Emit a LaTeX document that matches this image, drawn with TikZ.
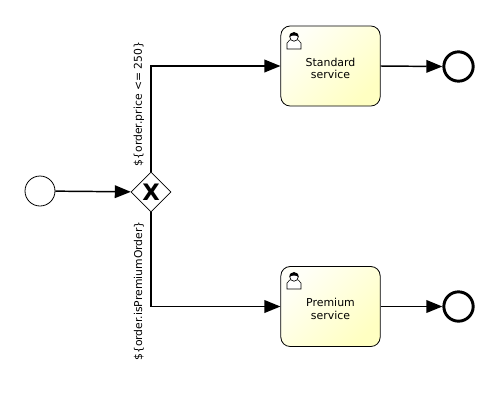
\documentclass[tikz,border=0pt]{standalone}
\usepackage{fontspec}
\setmainfont{DejaVu Sans}
\usetikzlibrary{arrows.meta,shapes.geometric}
\newcommand{\tasktop}{\rule{0pt}{10pt}}

\begin{document}
\begin{tikzpicture}[x=0.75pt, y=-0.75pt, font=\fontsize{8.2}{9.6}\selectfont,
  task/.style={draw, line width=0.6pt, rounded corners=7pt, align=center, minimum width=74.5pt, minimum height=60pt, inner sep=2pt, left color=yellow!3, right color=yellow!24, shading angle=45},
  startev/.style={draw, circle, line width=0.6pt, minimum size=22.5pt, inner sep=0pt},
  endev/.style={draw, circle, line width=2.2pt, minimum size=22pt, inner sep=0pt},
  gateway/.style={draw, diamond, line width=0.6pt, minimum size=30pt, inner sep=0pt, font=\fontsize{17}{17}\selectfont\bfseries},
  arr/.style={line width=1.1pt, -{Triangle[length=12pt, width=9.5pt]}},
  guard/.style={rotate=90, font=\fontsize{8.1}{10}\selectfont},
  usericon/.pic={
    \draw[line width=0.4pt, fill=white] (-7,9) -- (-7,3) .. controls (-6,0) and (-3,0) .. (-2,-1) -- (2,-1) .. controls (3,0) and (6,0) .. (7,3) -- (7,9) -- cycle;
    \draw[line width=0.5pt, fill=white] (0,-3) circle (4.2);
    \fill (-4.6,-3) .. controls (-5,-9.5) and (5,-9.5) .. (4.6,-3) .. controls (3,-5) and (-3,-5) .. (-4.6,-3) -- cycle;
  }]
\useasboundingbox (0,0) rectangle (498,401);
\node[startev] (start) at (40,191) {};
\node[gateway] (gw) at (151,192) {X};
\node[task] (std) at (330.5,66) {\tasktop Standard\\service};
\node[task] (prem) at (330.5,306.5) {\tasktop Premium\\service};
\node[endev] (endstd) at (458.5,66.5) {};
\node[endev] (endprem) at (458.5,306.5) {};
\pic at (294,40) {usericon};
\pic at (294,280) {usericon};
\draw[arr] (start) -- (gw);
\draw[arr] (gw.north) |- (std.west);
\draw[arr] (gw.south) |- (prem.west);
\draw[arr] (std.east) -- (endstd.west);
\draw[arr] (prem.east) -- (endprem.west);
\node[guard] (lblstd) at (139,104) {\$\{order.price <= 250\}};
\node[guard] (lblprem) at (139,291) {\$\{order.isPremiumOrder\}};
\end{tikzpicture}
\end{document}
